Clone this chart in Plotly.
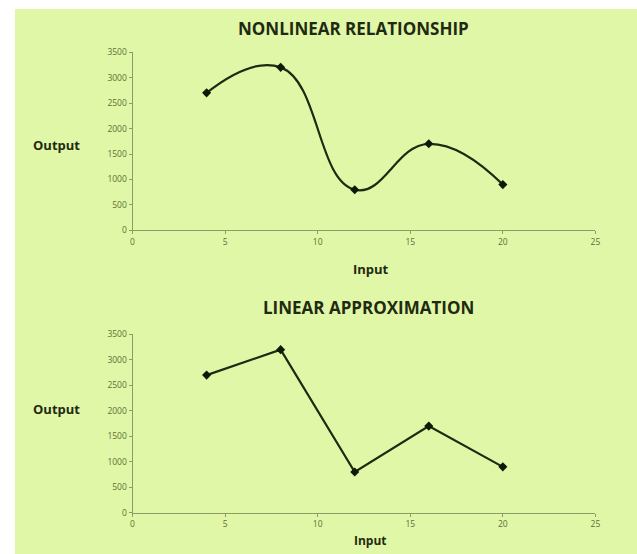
import plotly.graph_objects as go

inputs = [4, 8, 12, 16, 20]
outputs = [2700, 3200, 800, 1700, 900]
x_ticks = [0, 5, 10, 15, 20, 25]
y_ticks = [0, 500, 1000, 1500, 2000, 2500, 3000, 3500]
titles = ["NONLINEAR RELATIONSHIP", "LINEAR APPROXIMATION"]

W, H = 637, 554
BG = "#e0f7a8"
AX = "#8c9c62"
TXT = "#5f6e34"
DARK = "#1f2a10"
TFONT = "Open Sans, sans-serif"

def py(p):
    return 1 - p / H

def px(p):
    return p / W

fig = go.Figure()

fig.add_trace(go.Scatter(x=inputs, y=outputs, mode="lines+markers",
                         line=dict(shape="spline", smoothing=1.3, color=DARK, width=2.2),
                         marker=dict(symbol="diamond", size=7, color="#101808"),
                         xaxis="x", yaxis="y", showlegend=False, hoverinfo="skip"))
fig.add_trace(go.Scatter(x=inputs, y=outputs, mode="lines+markers",
                         line=dict(shape="linear", color=DARK, width=2.2),
                         marker=dict(symbol="diamond", size=7, color="#101808"),
                         xaxis="x2", yaxis="y2", showlegend=False, hoverinfo="skip"))

def xa(anchor):
    return dict(domain=[px(132), px(600)], range=[0, 25], tickvals=x_ticks,
                showgrid=False, zeroline=False, showline=True, linecolor=AX, linewidth=1,
                ticks="outside", ticklen=3, tickcolor=AX,
                tickfont=dict(size=8.5, color=TXT, family=TFONT), anchor=anchor, fixedrange=True)

def ya(top, bottom, anchor):
    return dict(domain=[py(bottom), py(top)], range=[0, 3500], tickvals=y_ticks,
                showgrid=False, zeroline=False, showline=True, linecolor=AX, linewidth=1,
                ticks="outside", ticklen=3, tickcolor=AX,
                tickfont=dict(size=8.5, color=TXT, family=TFONT), anchor=anchor, fixedrange=True)

annotations = []
def ann(text, x, y, size, bold=True):
    annotations.append(dict(text=f"<b>{text}</b>" if bold else text, x=px(x), y=py(y),
                            xref="paper", yref="paper", showarrow=False,
                            xanchor="center", yanchor="middle",
                            font=dict(size=size, color=DARK, family=TFONT)))

ann(titles[0], 355, 23, 17)
ann(titles[1], 371, 308, 17)
ann("Output", 55, 142, 13)
ann("Output", 55, 411, 13)
ann("Input", 373, 268, 13)
ann("Input", 373, 545, 12)

fig.update_layout(
    width=W, height=H, margin=dict(l=0, r=0, t=0, b=0),
    paper_bgcolor="white", plot_bgcolor="rgba(0,0,0,0)",
    xaxis=xa("y"), yaxis=ya(47, 229, "x"),
    xaxis2=xa("y2"), yaxis2=ya(335, 517, "x2"),
    annotations=annotations,
    shapes=[dict(type="rect", xref="paper", yref="paper", x0=px(13), x1=1.01,
                 y0=-0.01, y1=py(3), fillcolor=BG, line=dict(width=0), layer="below")],
)

fig.write_html("out.html", config={"displayModeBar": False},
               post_script="document.body.style.margin='0';document.body.style.padding='0';")
